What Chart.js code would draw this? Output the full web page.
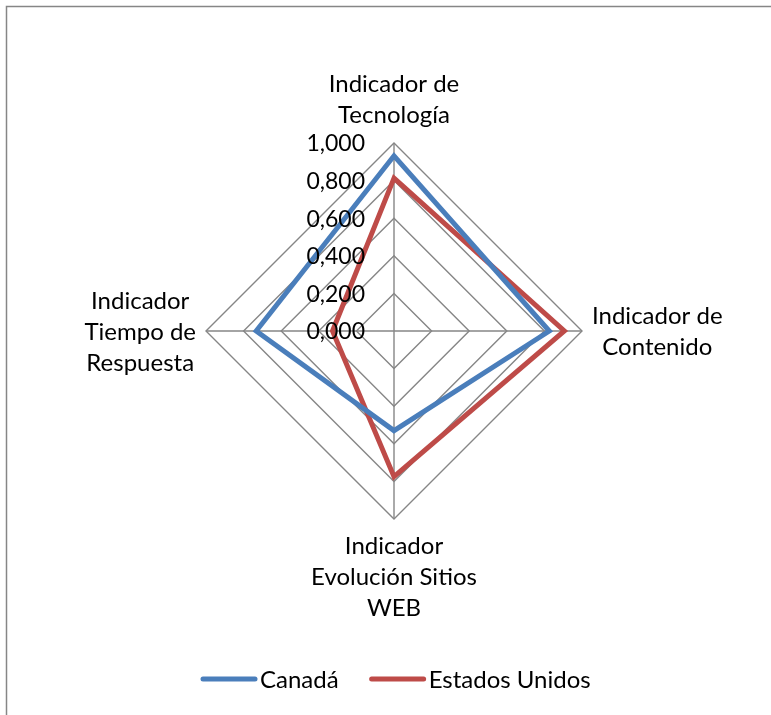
<!DOCTYPE html>
<html>
<head>
<meta charset="utf-8">
<title>Indicadores Canadá vs Estados Unidos</title>
<script src="https://cdn.jsdelivr.net/npm/chart.js@4.4.1/dist/chart.umd.min.js"></script>
<style>
    html, body { margin: 0; padding: 0; background: #fff; }
    #wrap { width: 771px; height: 715px; position: relative; }
</style>
</head>
<body>
<div id="wrap"><canvas id="radarChart"></canvas></div>
<script>
// Chart data
const categories = [
    ['Indicador de', 'Tecnología'],
    ['Indicador de', 'Contenido'],
    ['Indicador', 'Evolución Sitios', 'WEB'],
    ['Indicador', 'Tiempo de', 'Respuesta']
];
const canadaValues = [0.932, 0.826, 0.530, 0.733];
const usaValues = [0.813, 0.906, 0.775, 0.327];
const seriesNames = ['Canadá', 'Estados Unidos'];
const tickValues = [0, 0.2, 0.4, 0.6, 0.8, 1.0];

const FONT = 'Lato, "Open Sans", sans-serif';
const gridColor = '#868686';

// background + frame (top and left edges only are visible in the original)
const framePlugin = {
    id: 'frame',
    beforeDraw: function(chart) {
        const ctx = chart.ctx;
        ctx.save();
        ctx.fillStyle = '#fff';
        ctx.fillRect(0, 0, chart.width, chart.height);
        ctx.strokeStyle = gridColor;
        ctx.lineWidth = 1.5;
        ctx.beginPath();
        ctx.moveTo(6.5, chart.height);
        ctx.lineTo(6.5, 6.5);
        ctx.lineTo(chart.width, 6.5);
        ctx.stroke();
        ctx.restore();
    }
};

// tick labels, right aligned left of the vertical axis
const tickLabelPlugin = {
    id: 'tickLabels',
    afterDraw: function(chart) {
        const scale = chart.scales.r;
        const ctx = chart.ctx;
        ctx.save();
        ctx.font = '23px ' + FONT;
        ctx.fillStyle = '#000';
        ctx.textAlign = 'right';
        ctx.textBaseline = 'middle';
        tickValues.forEach(v => {
            const d = scale.getDistanceFromCenterForValue(v);
            ctx.fillText(v.toFixed(3).replace('.', ','), scale.xCenter - 29, scale.yCenter - d + 1);
        });
        ctx.restore();
    }
};

// point labels, centered blocks like Excel
const pointLabelPlugin = {
    id: 'centeredPointLabels',
    afterDraw: function(chart) {
        const scale = chart.scales.r;
        const ctx = chart.ctx;
        const lineH = 31;
        ctx.save();
        ctx.font = '24px ' + FONT;
        ctx.fillStyle = '#000';
        ctx.textAlign = 'center';
        ctx.textBaseline = 'middle';
        chart.data.labels.forEach((lines, i) => {
            const p = scale.getPointPosition(i, scale.drawingArea + 10);
            const w = Math.max(...lines.map(l => ctx.measureText(l).width));
            const h = lines.length * lineH;
            let cx = p.x, top;
            const a = p.angle;
            const cos = Math.cos(a), sin = Math.sin(a);
            if (Math.abs(cos) < 0.01) {
                // top or bottom
                top = sin < 0 ? p.y - h - 2 : p.y + 2;
            } else {
                cx = cos > 0 ? p.x + w / 2 : p.x - w / 2;
                top = p.y - h / 2 + 1;
            }
            lines.forEach((l, k) => {
                ctx.fillText(l, cx, top + lineH * k + lineH / 2);
            });
        });
        ctx.restore();
    }
};

// legend with line markers at the bottom
const legendPlugin = {
    id: 'lineLegend',
    afterDraw: function(chart) {
        const ctx = chart.ctx;
        ctx.save();
        ctx.font = '24px ' + FONT;
        ctx.textBaseline = 'middle';
        ctx.textAlign = 'left';
        let x = 203;
        const y = 679;
        chart.data.datasets.forEach(ds => {
            ctx.strokeStyle = ds.borderColor;
            ctx.lineWidth = 5;
            ctx.lineCap = 'round';
            ctx.beginPath();
            ctx.moveTo(x, y);
            ctx.lineTo(x + 52, y);
            ctx.stroke();
            ctx.fillStyle = '#000';
            ctx.fillText(ds.label, x + 57, y + 1);
            x += 57 + ctx.measureText(ds.label).width + 33;
        });
        ctx.restore();
    }
};

const ctx = document.getElementById('radarChart');
new Chart(ctx, {
    type: 'radar',
    data: {
        labels: categories,
        datasets: [
            {
                label: seriesNames[0],
                data: canadaValues,
                borderColor: '#4A7EBB',
                backgroundColor: 'rgba(0,0,0,0)',
                borderWidth: 5,
                pointRadius: 0,
                pointHoverRadius: 0,
                fill: false,
                tension: 0
            },
            {
                label: seriesNames[1],
                data: usaValues,
                borderColor: '#BE4B48',
                backgroundColor: 'rgba(0,0,0,0)',
                borderWidth: 5,
                pointRadius: 0,
                pointHoverRadius: 0,
                fill: false,
                tension: 0
            }
        ]
    },
    options: {
        responsive: true,
        maintainAspectRatio: false,
        animation: false,
        layout: {
            padding: { left: 206, right: 189, top: 143, bottom: 196 }
        },
        plugins: {
            legend: { display: false },
            tooltip: { enabled: false }
        },
        scales: {
            r: {
                min: 0,
                max: 1,
                ticks: { display: false, stepSize: 0.2 },
                pointLabels: { display: false },
                grid: { color: gridColor, lineWidth: 1.4 },
                angleLines: { color: gridColor, lineWidth: 1.4 }
            }
        }
    },
    plugins: [framePlugin, tickLabelPlugin, pointLabelPlugin, legendPlugin]
});
</script>
</body>
</html>
